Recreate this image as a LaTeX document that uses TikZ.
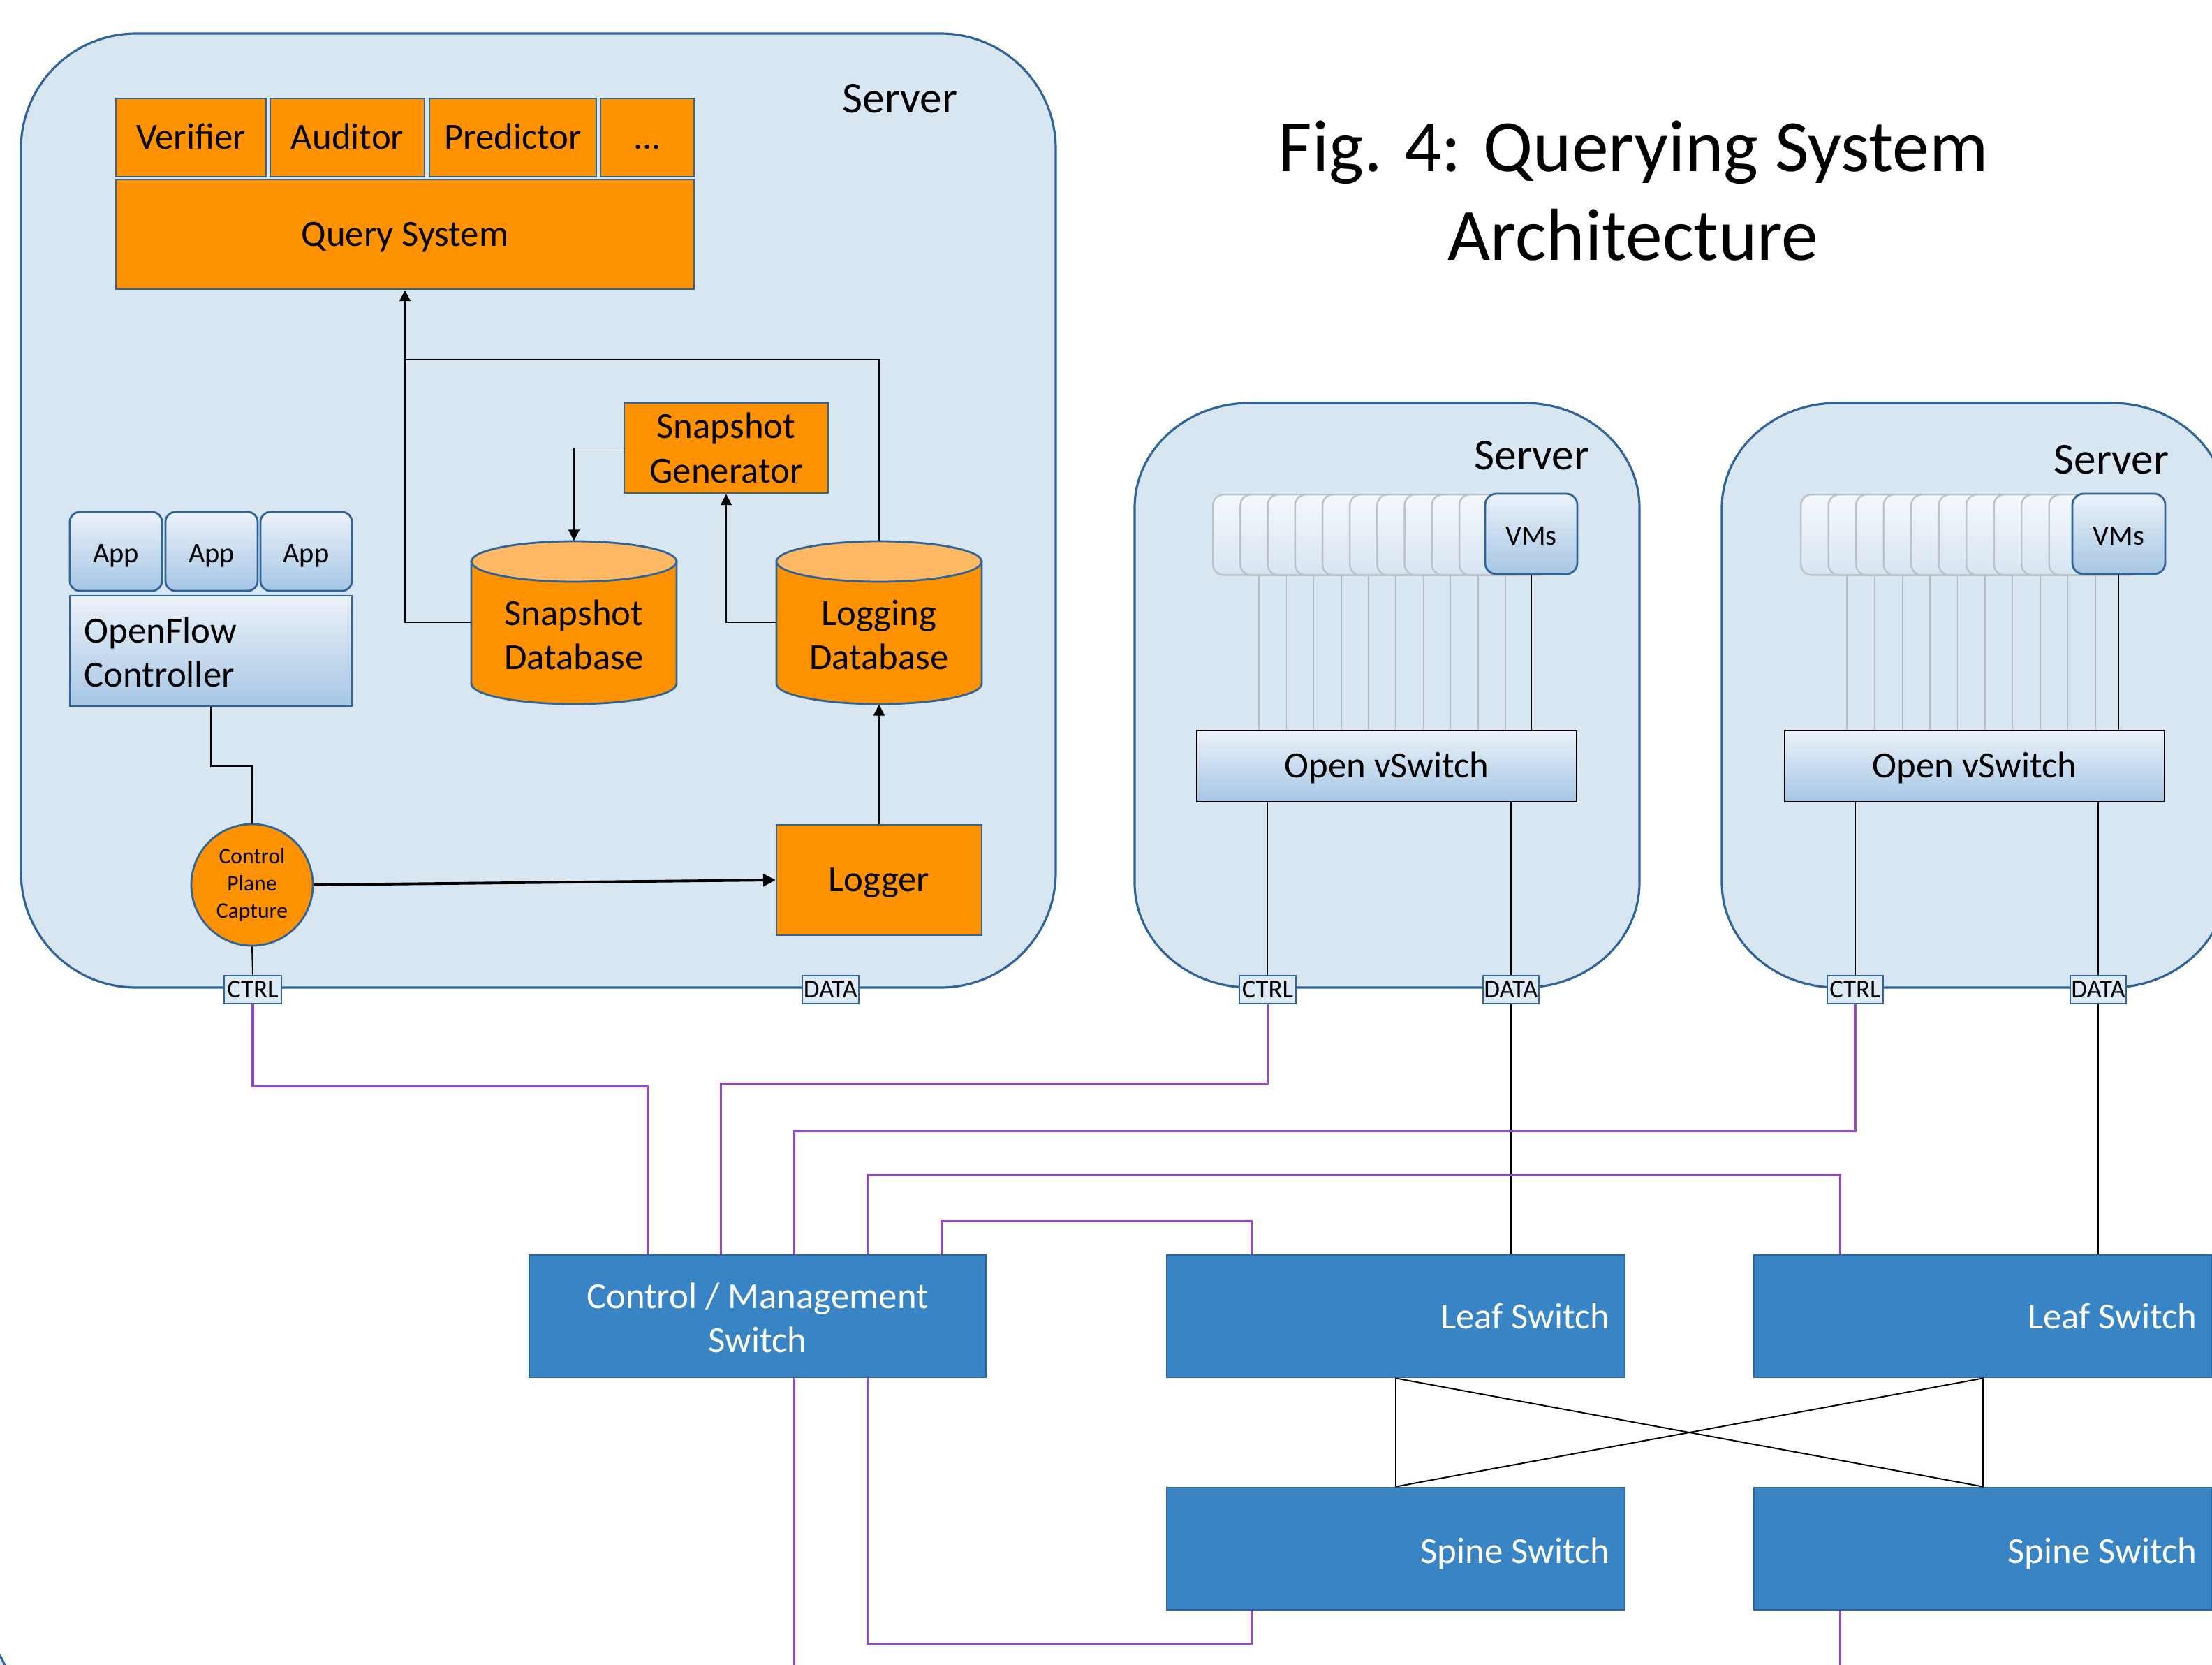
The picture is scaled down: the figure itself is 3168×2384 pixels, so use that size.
\documentclass[tikz,border=0pt]{standalone}
\usepackage{fontspec}
\setmainfont{Carlito}
\usetikzlibrary{arrows.meta,calc,fit}

\definecolor{srvfill}{RGB}{216,230,242}
\definecolor{srvline}{RGB}{47,100,155}
\definecolor{orng}{RGB}{255,146,0}
\definecolor{orngtop}{RGB}{255,185,100}
\definecolor{swfill}{RGB}{57,132,197}
\definecolor{swline}{RGB}{44,100,158}
\definecolor{purp}{RGB}{150,72,200}
\definecolor{gradT}{RGB}{236,242,250}
\definecolor{gradB}{RGB}{166,198,228}
\definecolor{ghT}{RGB}{244,248,252}
\definecolor{ghB}{RGB}{216,229,242}
\definecolor{ghline}{RGB}{188,194,202}
\definecolor{vline}{RGB}{178,186,196}
\definecolor{portfill}{RGB}{222,234,246}

% rounded rectangle with elliptic corners: style, x1, y1, x2, y2, rx, ry
\newcommand\erect[7]{%
 \path[#1] ({#2+#6},#3) -- ({#4-#6},#3)
 .. controls ({#4-0.4477*#6},#3) and (#4,{#3+0.4477*#7}) .. (#4,{#3+#7})
 -- (#4,{#5-#7})
 .. controls (#4,{#5-0.4477*#7}) and ({#4-0.4477*#6},#5) .. ({#4-#6},#5)
 -- ({#2+#6},#5)
 .. controls ({#2+0.4477*#6},#5) and (#2,{#5-0.4477*#7}) .. (#2,{#5-#7})
 -- (#2,{#3+#7})
 .. controls (#2,{#3+0.4477*#7}) and ({#2+0.4477*#6},#3) .. ({#2+#6},#3) -- cycle;}

% database cylinder: x1, y1, x2, y2
\newcommand\dbcyl[4]{%
 \pgfmathsetmacro\cxD{(#1+#3)/2}%
 \pgfmathsetmacro\kxD{0.5523*(#3-#1)/2}%
 \path[dbbody] (#1,{#2+29}) -- (#1,{#4-29})
 .. controls (#1,{#4-13}) and ({\cxD-\kxD},#4) .. (\cxD,#4)
 .. controls ({\cxD+\kxD},#4) and (#3,{#4-13}) .. (#3,{#4-29})
 -- (#3,{#2+29}) -- cycle;
 \path[dbtop] (#1,{#2+29})
 .. controls (#1,{#2+13}) and ({\cxD-\kxD},#2) .. (\cxD,#2)
 .. controls ({\cxD+\kxD},#2) and (#3,{#2+13}) .. (#3,{#2+29})
 .. controls (#3,{#2+45}) and ({\cxD+\kxD},{#2+58}) .. (\cxD,{#2+58})
 .. controls ({\cxD-\kxD},{#2+58}) and (#1,{#2+45}) .. (#1,{#2+29}) -- cycle;}

\begin{document}
\begin{tikzpicture}[x=0.01cm,y=-0.01cm,
  conn/.style={draw=black, line width=0.55pt},
  arr/.style={conn, -{Triangle[length=4.5pt,width=4.5pt]}},
  thickarr/.style={draw=black, line width=1.1pt, -{Triangle[length=5pt,width=5pt]}},
  pline/.style={draw=purp, line width=0.9pt},
  srv/.style={fill=srvfill, draw=srvline, line width=0.9pt},
  obox/.style={draw=srvline, fill=orng, line width=0.8pt, inner sep=0pt},
  dbbody/.style={fill=orng, draw=srvline, line width=0.8pt},
  dbtop/.style={fill=orngtop, draw=srvline, line width=0.8pt},
  gbox/.style={draw=srvline, top color=gradT, bottom color=gradB, line width=0.8pt, inner sep=0pt},
  rbox/.style={gbox, rounded corners=0.14cm},
  ovsbox/.style={draw=black, top color=gradT, bottom color=gradB, line width=0.8pt, inner sep=0pt},
  ghost/.style={draw=ghline, top color=ghT, bottom color=ghB, rounded corners=0.15cm, line width=0.7pt, inner sep=0pt, minimum width=1.32cm, minimum height=1.15cm, anchor=north west},
  vmbox/.style={gbox, rounded corners=0.16cm},
  vmline/.style={draw=vline, line width=0.45pt},
  port/.style={draw=srvline, fill=portfill, line width=0.8pt, inner sep=0pt},
  porttxt/.style={inner sep=0pt, font=\fontsize{10.5}{12}\selectfont, text height=0.66em, text depth=0pt},
  sw/.style={fill=swfill, draw=swline, line width=0.8pt, inner sep=0pt},
  swtxt/.style={text=white, font=\fontsize{15}{18}\selectfont, inner sep=0pt, align=center},
  swone/.style={swtxt, text height=0.96em, text depth=0pt},
  lbl/.style={inner sep=0pt, font=\fontsize{18}{22}\selectfont},
  t15/.style={inner sep=0pt, font=\fontsize{15}{18}\selectfont, align=center},
  one/.style={t15, text height=0.96em, text depth=0pt},
  t11/.style={inner sep=0pt, font=\fontsize{11.5}{14}\selectfont, align=center, text height=0.9em, text depth=0pt},
  ttl/.style={inner sep=0pt, font=\fontsize{30}{36}\selectfont, anchor=base}
]
\useasboundingbox (0,0) rectangle (3168,2384);
\clip (0,0) rectangle (3168,2384);

% partial box at bottom left
\erect{srv}{-700}{2296}{13}{3100}{175}{120}

% ================= main server =================
\erect{srv}{30}{48}{1512}{1414}{165}{165}
\node[lbl] (srvlbl1) at (1289,141) {Server};

\node[obox, fit={(166,141)(381,253)}] (ver) {};
\node[one] (vert) at (ver) {Verifier};
\node[obox, fit={(387,141)(608,253)}] (aud) {};
\node[one] (audt) at (aud) {Auditor};
\node[obox, fit={(615,141)(854,253)}] (pred) {};
\node[one] (predt) at (pred) {Predictor};
\node[obox, fit={(860,141)(994,253)}] (dots) {};
\node[one] (dotst) at (dots) {...};
\node[obox, fit={(166,257)(994,414)}] (qs) {};
\node[one] (qst) at (qs) {Query System};
\node[obox, fit={(894,577)(1186,706)}] (sg) {};
\node[t15] (sgt) at (sg) {Snapshot\\Generator};

\dbcyl{675}{775}{969}{1008}
\node[fit={(675,775)(969,1008)}, inner sep=0pt] (sdb) {};
\node[t15] (sdbt) at (822,909) {Snapshot\\Database};
\dbcyl{1112}{775}{1406}{1008}
\node[fit={(1112,775)(1406,1008)}, inner sep=0pt] (ldb) {};
\node[t15] (ldbt) at (1259,909) {Logging\\Database};

\node[obox, fit={(1112,1181)(1406,1339)}] (logger) {};
\node[one] (loggert) at (logger) {Logger};
\node[circle, fill=orng, draw=srvline, line width=0.8pt, minimum size=1.74cm, inner sep=0pt, align=center, font=\fontsize{9}{11}\selectfont] (cpc) at (361,1267) {Control\\Plane\\Capture};

\node[rbox, fit={(100,733)(232,846)}] (app1) {};
\node[t11] (app1t) at (app1) {App};
\node[rbox, fit={(237,733)(369,846)}] (app2) {};
\node[t11] (app2t) at (app2) {App};
\node[rbox, fit={(373,733)(504,846)}] (app3) {};
\node[t11] (app3t) at (app3) {App};
\node[gbox, fit={(100,853)(504,1011)}] (ofc) {};
\node[t15, align=left, anchor=west] (ofct) at (120,934) {OpenFlow\\Controller};

\node[port, fit={(321,1397)(403,1437)}] (ctrl1) {};
\node[porttxt] (ctrl1t) at (ctrl1) {CTRL};
\node[port, fit={(1149,1397)(1230,1437)}] (data1) {};
\node[porttxt] (data1t) at (data1) {DATA};

\coordinate (j1) at (580,515);
\draw[arr] (sdb.west) -| (qs.south);
\draw[conn] (ldb.north) |- (j1);
\draw[arr] (sg.west) -| (sdb.north);
\draw[arr] (ldb.west) -| (sg.south);
\draw[arr] (logger.north) -- (ldb.south);
\draw[thickarr] (cpc.east) -- (logger.west);
\draw[conn] (ofc.south) -- ++(0,85) -| (cpc.north);
\draw[conn] (cpc.south) -- (ctrl1.north);

% ================= middle server =================
\erect{srv}{1625}{577}{2348}{1414}{165}{150}
\node[lbl] (srvlbl2) at (2194,652) {Server};
\node[ovsbox, fit={(1714,1046)(2258,1148)}] (ovs1) {};
\node[one] (ovs1t) at (ovs1) {Open vSwitch};
\foreach \i in {0,...,9} {
  \node[ghost] (ga\i) at ({1736+39.2*\i},707) {};
}
\node[vmbox, fit={(2127,707)(2259,822)}] (vms1) {};
\node[t11] (vms1t) at (vms1) {VMs};
\foreach \i in {0,...,9} {
  \draw[vmline] (ga\i.south) -- (ga\i.south |- ovs1.north);
}
\draw[conn] (vms1.south) -- (vms1.south |- ovs1.north);
\node[port, fit={(1775,1397)(1856,1437)}] (ctrl2) {};
\node[porttxt] (ctrl2t) at (ctrl2) {CTRL};
\node[port, fit={(2124,1397)(2204,1437)}] (data2) {};
\node[porttxt] (data2t) at (data2) {DATA};
\draw[conn] (ctrl2.north |- ovs1.south) -- (ctrl2.north);
\draw[conn] (data2.north |- ovs1.south) -- (data2.north);

% ================= right server =================
\erect{srv}{2466}{577}{3189}{1414}{165}{150}
\node[lbl] (srvlbl3) at (3024,658) {Server};
\node[ovsbox, fit={(2556,1046)(3100,1148)}] (ovs2) {};
\node[one] (ovs2t) at (ovs2) {Open vSwitch};
\foreach \i in {0,...,9} {
  \node[ghost] (gb\i) at ({2578+39.5*\i},707) {};
}
\node[vmbox, fit={(2968,707)(3101,822)}] (vms2) {};
\node[t11] (vms2t) at (vms2) {VMs};
\foreach \i in {0,...,9} {
  \draw[vmline] (gb\i.south) -- (gb\i.south |- ovs2.north);
}
\draw[conn] (vms2.south) -- (vms2.south |- ovs2.north);
\node[port, fit={(2617,1397)(2697,1437)}] (ctrl3) {};
\node[porttxt] (ctrl3t) at (ctrl3) {CTRL};
\node[port, fit={(2965,1397)(3045,1437)}] (data3) {};
\node[porttxt] (data3t) at (data3) {DATA};
\draw[conn] (ctrl3.north |- ovs2.south) -- (ctrl3.north);
\draw[conn] (data3.north |- ovs2.south) -- (data3.north);

% ================= title =================
\node[ttl] (title1) at (2339,245) {Fig. 4: Querying System};
\node[ttl] (title2) at (2339,372) {Architecture};

% ================= switches =================
\node[sw, fit={(758,1797)(1412,1972)}] (cms) {};
\node[swtxt] (cmst) at (1085,1887) {Control / Management\\Switch};
\node[sw, fit={(1671,1797)(2327,1972)}] (leaf1) {};
\node[sw, fit={(2512,1797)(3168,1972)}] (leaf2) {};
\node[sw, fit={(1671,2130)(2327,2305)}] (spine1) {};
\node[sw, fit={(2512,2130)(3168,2305)}] (spine2) {};
\node[swone, anchor=east] (leaf1t) at (2306,1886) {Leaf Switch};
\node[swone, anchor=east] (leaf2t) at (3147,1886) {Leaf Switch};
\node[swone, anchor=east] (spine1t) at (2306,2222) {Spine Switch};
\node[swone, anchor=east] (spine2t) at (3147,2222) {Spine Switch};

\draw[conn] (leaf1.south) -- (spine1.north);
\draw[conn] (leaf1.south) -- (spine2.north);
\draw[conn] (leaf2.south) -- (spine2.north);
\draw[conn] (leaf2.south) -- (spine1.north);

\draw[conn] (data2.south) -- (data2.south |- leaf1.north);
\draw[conn] (data3.south) -- (data3.south |- leaf2.north);

% ================= purple control links =================
\draw[pline] (ctrl1.south) -- ++(0,117) -| ($(cms.north west)+(171,0)$);
\draw[pline] (ctrl2.south) -- ++(0,113) -| ($(cms.north west)+(276,0)$);
\draw[pline] (ctrl3.south) -- ++(0,181) -| ($(cms.north west)+(381,0)$);
\draw[pline] ($(leaf2.north west)+(125,0)$) -- ++(0,-113) -| ($(cms.north west)+(486,0)$);
\draw[pline] ($(leaf1.north west)+(123,0)$) -- ++(0,-47) -| ($(cms.north west)+(592,0)$);
\draw[pline] ($(cms.south west)+(486,0)$) -- ++(0,380) -| ($(spine1.south west)+(123,0)$);
\draw[pline] ($(cms.south west)+(381,0)$) -- ++(0,450);
\draw[pline] ($(spine2.south west)+(125,0)$) -- ++(0,120);
\end{tikzpicture}
\end{document}
